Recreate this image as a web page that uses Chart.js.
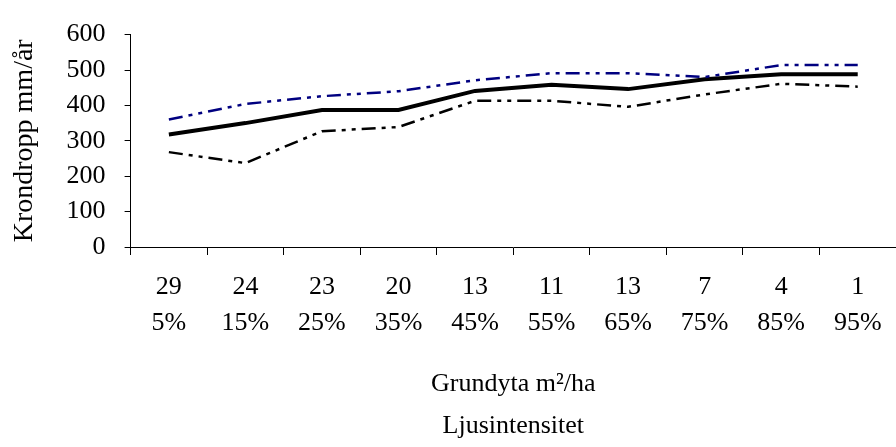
<!DOCTYPE html>
<html><head><meta charset="utf-8">
<script src="https://cdn.jsdelivr.net/npm/chart.js@4"></script>
<style>body{margin:0;background:#fff}#wrap{width:896px;height:447px}</style>
</head><body><div id="wrap"><canvas id="c"></canvas></div>
<script>
const grundyta = ['29','24','23','20','13','11','13','7','4','1'];
const ljus = ['5%','15%','25%','35%','45%','55%','65%','75%','85%','95%'];
const mean = [318,350,387,387,441,458,446,474,488,488];
const upper = [360,404,426,440,471,491,491,480,514,514];
const lower = [268,237,327,339,413,413,396,431,461,453];

const family = '"Liberation Serif", "Times New Roman", serif';
const dash = [14, 6, 4, 6, 4, 6];
new Chart(document.getElementById('c'), {
  type: 'line',
  data: {
    labels: grundyta.map((g, i) => [g, ljus[i]]),
    datasets: [
      {data: upper, borderColor: '#000080', borderWidth: 2.5, borderDash: dash, pointRadius: 0, tension: 0},
      {data: mean, borderColor: '#000', borderWidth: 4, pointRadius: 0, tension: 0},
      {data: lower, borderColor: '#000', borderWidth: 2.5, borderDash: dash, pointRadius: 0, tension: 0}
    ]
  },
  options: {
    responsive: true, maintainAspectRatio: false, animation: false,
    layout: {padding: {top: 9, right: 0, left: 2, bottom: 0}},
    plugins: {legend: {display: false}, tooltip: {enabled: false}},
    scales: {
      x: {
        offset: true,
        grid: {offset: true, drawOnChartArea: false, tickLength: 8, color: '#000'},
        border: {color: '#000'},
        ticks: {color: '#000', font: {family, size: 26, lineHeight: 1.4}, maxRotation: 0, padding: 14},
        title: {display: true, text: ['Grundyta m²/ha', 'Ljusintensitet'], color: '#000', font: {family, size: 26, lineHeight: 1.6}, padding: {top: 8, bottom: 0}}
      },
      y: {
        min: 0, max: 600,
        ticks: {stepSize: 100, color: '#000', font: {family, size: 26}, padding: 19},
        grid: {drawOnChartArea: false, tickLength: 6, color: '#000'},
        border: {color: '#000'},
        title: {display: true, text: 'Krondropp mm/år', color: '#000', font: {family, size: 28}, padding: 6}
      }
    }
  }
});
</script></body></html>
